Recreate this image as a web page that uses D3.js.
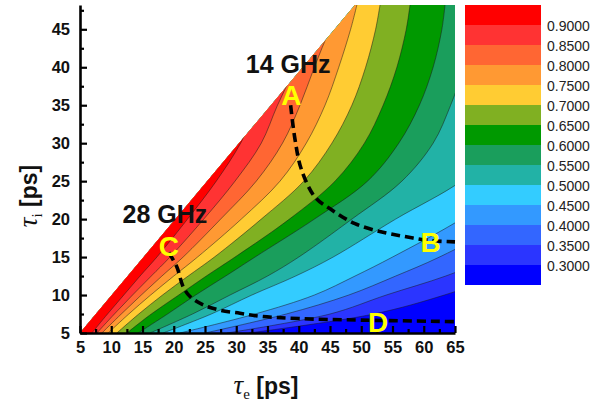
<!DOCTYPE html>
<html><head><meta charset="utf-8">
<script src="https://cdn.jsdelivr.net/npm/d3@7"></script>
<style>body{margin:0;background:#fff}svg{display:block}</style>
</head><body>
<svg id="chart" width="592" height="401"></svg>
<script>
// ---------- data ----------
// tau_i rows (ps) at which each contour's tau_e crossing (ps) was read
const tauIRows = [5, 7.5, 10, 12.5, 15, 20, 25, 30, 35, 40, 45, 48.2];
const contourLevels = [0.30, 0.35, 0.40, 0.45, 0.50, 0.55, 0.60, 0.65, 0.70, 0.75, 0.80, 0.85, 0.90];
const c30 = [32.0, 52.0, 63.3, 72.0, 79.0, 90.0, 99.0, 106, 111, 115, 118, 120];
const c35 = [28.5, 45.0, 54.0, 63.5, 71.0, 82.0, 91.0, 98, 103, 107, 110, 112];
const c40 = [25.0, 38.0, 48.0, 55.5, 62.5, 74.0, 83.0, 90, 95, 99, 102, 104];
const c45 = [21.0, 33.0, 42.5, 49.0, 55.0, 66.0, 75.0, 82, 87, 91, 94, 96];
const c50 = [18.3, 26.0, 32.5, 39.5, 45.5, 55.5, 66.0, 73, 78, 82, 85, 87];
const c55 = [16.2, 23.0, 29.0, 35.0, 40.0, 48.5, 56.5, 61.5, 64.3, 66.5, 68.5, 69.5];
const c60 = [14.3, 19.0, 23.5, 28.3, 33.0, 42.5, 51.0, 56.0, 59.3, 61.5, 62.9, 63.4];
const c65 = [12.5, 16.4, 20.8, 25.2, 29.8, 38.5, 45.8, 50.5, 53.5, 55.7, 57.2, 57.8];
const c70 = [10.9, 14.4, 18.2, 22.3, 26.5, 34.0, 40.8, 45.3, 48.5, 50.7, 52.3, 53.0];
const c75 = [9.5, 12.8, 16.3, 20.0, 23.8, 30.8, 37.0, 41.2, 44.2, 46.4, 48.3, 49.3];
const c80 = [8.5, 11.6, 14.8, 18.1, 21.5, 27.5, 33.2, 37.4, 40.2, 42.5, 45.0, 47.0];
const c85 = [7.7, 10.5, 13.4, 16.4, 19.4, 24.8, 29.8, 34.0, 36.6, 39.5, 42.5, 45.0];
const c90 = [6.9, 9.4, 12.0, 14.6, 17.3, 22.2, 26.8, 30.7, 33.5, 37.0, 41.0, 44.0];
const contourCrossings = [c30, c35, c40, c45, c50, c55, c60, c65, c70, c75, c80, c85, c90];

// band colours, lowest (<0.30) to highest (>0.90)
const bandColors = ["#0000ff", "#2b35ff", "#3366ff", "#3399ff", "#33ccff", "#22b2a6", "#1a9e5c",
                    "#009900", "#80b022", "#ffcc33", "#ff9933", "#ff6633", "#ff3333", "#ff0000"];

// valid region (tau_i <= tau_e) corners
const regionCorners = [[5, 5], [65, 5], [65, 48.2], [49, 48.2]];

// iso-bandwidth curves
const curve14GHz = [[38.7, 35.0], [39.4, 30.5], [40.4, 26.6], [42.6, 22.9], [45.3, 21.2], [49.0, 19.4],
                    [53.3, 18.3], [57.0, 17.7], [60.7, 17.2], [65.0, 17.0]];
const curve28GHz = [[19.2, 15.6], [20.5, 13.7], [21.5, 11.1], [22.6, 9.8], [24.7, 8.7], [27.4, 8.0],
                    [30.6, 7.6], [33.8, 7.2], [40.0, 6.9], [50.0, 6.7], [65.0, 6.5]];
const freqLabels = [{text: "14 GHz", te: 38.3, ti: 40.4}, {text: "28 GHz", te: 18.6, ti: 20.7}];
const pointLabels = [{text: "A", te: 38.8, ti: 36.4}, {text: "B", te: 61.1, ti: 17.0},
                     {text: "C", te: 19.2, ti: 16.5}, {text: "D", te: 52.7, ti: 6.4}];

const xTicks = [5, 10, 15, 20, 25, 30, 35, 40, 45, 50, 55, 60, 65];
const yTicks = [5, 10, 15, 20, 25, 30, 35, 40, 45];
const colorbarTicks = [0.30, 0.35, 0.40, 0.45, 0.50, 0.55, 0.60, 0.65, 0.70, 0.75, 0.80, 0.85, 0.90];

// ---------- drawing ----------
const svg = d3.select("#chart");
const x = d3.scaleLinear().domain([5, 65]).range([80, 455]);
const y = d3.scaleLinear().domain([5, 48.2]).range([333, 5]);

svg.append("defs").append("clipPath").attr("id", "region")
  .append("polygon").attr("points", regionCorners.map(d => [x(d[0]), y(d[1])].join(",")).join(" "));

const plot = svg.append("g").attr("clip-path", "url(#region)");
plot.append("polygon").attr("points", regionCorners.map(d => [x(d[0]), y(d[1])].join(",")).join(" "))
  .attr("fill", bandColors[0]);

const contourLine = d3.line().x(d => x(d[0])).y(d => y(d[1])).curve(d3.curveCatmullRom.alpha(0.5));
const contourPts = contourCrossings.map(row => row.map((te, j) => [te, tauIRows[j]]));

contourPts.forEach((pts, i) => {
  const top = tauIRows[tauIRows.length - 1];
  plot.append("path")
    .attr("d", contourLine(pts) + `L${x(-20)},${y(top)}L${x(-20)},${y(5)}Z`)
    .attr("fill", bandColors[i + 1]);
});
contourPts.forEach(pts => {
  plot.append("path").attr("d", contourLine(pts))
    .attr("fill", "none").attr("stroke", "#1a1a1a").attr("stroke-width", 0.6).attr("stroke-opacity", 0.85);
});

// dashed iso-bandwidth lines
const dashLine = d3.line().x(d => x(d[0])).y(d => y(d[1])).curve(d3.curveCatmullRom.alpha(0.5));
[curve14GHz, curve28GHz].forEach(c => {
  svg.append("path").attr("d", dashLine(c)).attr("fill", "none")
    .attr("stroke", "#000").attr("stroke-width", 3.6).attr("stroke-dasharray", "9,5");
});

// axes
const font = "'Liberation Sans', Arial, sans-serif";
const xAxis = svg.append("g").attr("transform", `translate(0,${y(5)})`)
  .call(d3.axisBottom(x).tickValues(xTicks).tickSizeInner(-7).tickSizeOuter(0).tickPadding(8));
const xMinor = svg.append("g").attr("transform", `translate(0,${y(5)})`)
  .call(d3.axisBottom(x).tickValues(xTicks.slice(0, -1).map(v => v + 2.5)).tickSizeInner(-4).tickSizeOuter(0).tickFormat(""));
const yAxis = svg.append("g").attr("transform", `translate(${x(5)},0)`)
  .call(d3.axisLeft(y).tickValues(yTicks).tickSizeInner(-7).tickSizeOuter(0).tickPadding(10));
const yMinor = svg.append("g").attr("transform", `translate(${x(5)},0)`)
  .call(d3.axisLeft(y).tickValues(yTicks.map(v => v + 2.5)).tickSizeInner(-4).tickSizeOuter(0).tickFormat(""));
[xAxis, xMinor, yAxis, yMinor].forEach(g => {
  g.selectAll(".domain").attr("stroke", "#000").attr("stroke-width", 2.6);
  g.selectAll(".tick line").attr("stroke", "#000").attr("stroke-width", 2.2);
  g.selectAll(".tick text").attr("fill", "#111").style("font-family", font)
    .style("font-size", "16.5px").style("font-weight", "bold");
});
yMinor.select(".domain").remove(); xMinor.select(".domain").remove();

// axis titles
const xt = svg.append("text").attr("x", 266).attr("y", 394).attr("text-anchor", "middle").attr("fill", "#111");
xt.append("tspan").text("τ").style("font-family", "'Liberation Serif', 'DejaVu Serif', serif").style("font-style", "italic").style("font-size", "27px");
xt.append("tspan").text("e").attr("dy", 5).style("font-family", "'Liberation Serif', serif").style("font-size", "15px");
xt.append("tspan").text(" [ps]").attr("dy", -5).style("font-family", font).style("font-weight", "bold").style("font-size", "23px");

const yt = svg.append("text").attr("transform", "translate(37,196) rotate(-90)").attr("text-anchor", "middle").attr("fill", "#111");
yt.append("tspan").text("τ").style("font-family", "'Liberation Serif', 'DejaVu Serif', serif").style("font-style", "italic").style("font-size", "27px");
yt.append("tspan").text("i").attr("dy", 5).style("font-family", "'Liberation Serif', serif").style("font-size", "15px");
yt.append("tspan").text(" [ps]").attr("dy", -5).style("font-family", font).style("font-weight", "bold").style("font-size", "23px");

// annotations
svg.selectAll(".freq").data(freqLabels).join("text").attr("class", "freq")
  .attr("x", d => x(d.te)).attr("y", d => y(d.ti)).attr("dy", "0.36em").attr("text-anchor", "middle")
  .style("font-family", font).style("font-weight", "bold").style("font-size", "25px").attr("fill", "#111")
  .text(d => d.text);
svg.selectAll(".pt").data(pointLabels).join("text").attr("class", "pt")
  .attr("x", d => x(d.te)).attr("y", d => y(d.ti)).attr("dy", "0.36em").attr("text-anchor", "middle")
  .style("font-family", font).style("font-weight", "bold").style("font-size", "28px").attr("fill", "#ffff00")
  .text(d => d.text);

// colour bar
const cb = d3.scaleLinear().domain([0.25, 0.95]).range([285, 5]);
const cbG = svg.append("g");
cbG.selectAll("rect").data(bandColors).join("rect")
  .attr("x", 465).attr("width", 76)
  .attr("y", (d, i) => cb(0.30 + 0.05 * i)).attr("height", (d, i) => cb(0.25 + 0.05 * i) - cb(0.30 + 0.05 * i))
  .attr("fill", d => d);
cbG.selectAll("text").data(colorbarTicks).join("text")
  .attr("x", 547).attr("y", d => cb(d) + 1).attr("dy", "0.36em")
  .style("font-family", font).style("font-size", "14px").attr("fill", "#222")
  .text(d => d3.format(".4f")(d));
</script>
</body></html>
